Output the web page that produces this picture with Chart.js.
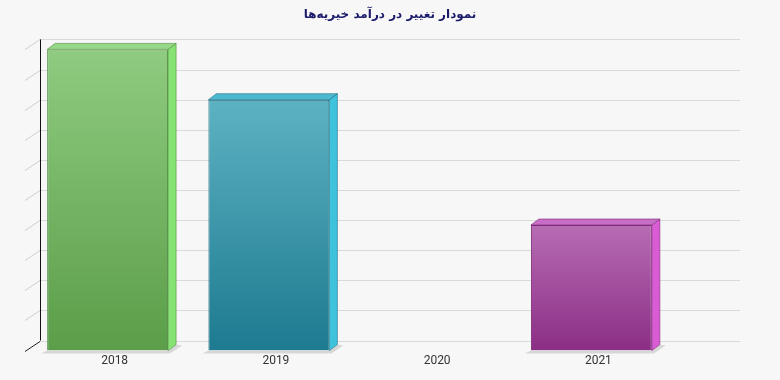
<!DOCTYPE html>
<html>
<head>
<meta charset="utf-8">
<script src="https://cdn.jsdelivr.net/npm/chart.js@4"></script>
<style>
  html, body { margin: 0; padding: 0; background: #f7f7f7; }
  #wrap { width: 780px; height: 380px; }
</style>
</head>
<body>
<div id="wrap"><canvas id="chart" width="780" height="380"></canvas></div>
<script>
// data (no tick labels shown, relative scale 0..100)
const years = ['2018', '2019', '2020', '2021'];
const incomeChange = [100, 83.3, 0, 41.7];
const yMax = 100;
const yStep = 10;

// colours per bar: front top, front bottom, side, top, border
const frontTop = ['#8fcb80', '#5db2c2', '#5db2c2', '#b76cb3'];
const frontBottom = ['#5b9d49', '#1d7a90', '#1d7a90', '#8b2e85'];
const sideColors = ['#86e272', '#3fc3dd', '#3fc3dd', '#d95cd4'];
const topColors = ['#96d887', '#4db9d1', '#4db9d1', '#c86ec6'];
const borderColors = ['#4f8a40', '#1c6b7e', '#1c6b7e', '#7d2a78'];

const DX = 15, DY = 10;   // depth of back wall
const BX = 8, BY = 6;     // depth of bars

const frontGradient = (ctx) => {
  const chart = ctx.chart;
  const i = ctx.dataIndex;
  if (!chart.chartArea || !chart.scales.y) return frontTop[i];
  const top = chart.scales.y.getPixelForValue(ctx.raw);
  const bottom = chart.scales.y.getPixelForValue(0);
  if (bottom - top < 1) return frontTop[i];
  const g = chart.ctx.createLinearGradient(0, top, 0, bottom);
  g.addColorStop(0, frontTop[i]);
  g.addColorStop(1, frontBottom[i]);
  return g;
};

const wall3d = {
  id: 'wall3d',
  beforeDraw(chart) {
    const c = chart.ctx;
    c.save();
    c.fillStyle = '#f7f7f7';
    c.fillRect(0, 0, chart.width, chart.height);
    c.restore();
  },
  beforeDatasetsDraw(chart) {
    const c = chart.ctx;
    const y = chart.scales.y;
    const ax = chart.chartArea.left - 2;
    c.save();
    c.lineWidth = 1;
    for (let v = 0; v <= yMax; v += yStep) {
      const py = Math.round(y.getPixelForValue(v)) + 0.5;
      // back wall line
      c.strokeStyle = '#dadada';
      c.beginPath();
      c.moveTo(ax + DX, py - DY);
      c.lineTo(740, py - DY);
      c.stroke();
      // side diagonal
      c.strokeStyle = v === 0 ? '#222' : '#cfcfcf';
      c.beginPath();
      c.moveTo(ax, py);
      c.lineTo(ax + DX, py - DY);
      c.stroke();
    }
    // vertical axis on back wall
    c.strokeStyle = '#111';
    c.beginPath();
    c.moveTo(ax + DX + 0.5, y.getPixelForValue(yMax) - DY);
    c.lineTo(ax + DX + 0.5, y.getPixelForValue(0) - DY);
    c.stroke();

    // shadows under bars
    const meta = chart.getDatasetMeta(0);
    meta.data.forEach((bar, i) => {
      if (!incomeChange[i]) return;
      const l = bar.x - bar.width / 2, r = bar.x + bar.width / 2, b = bar.base;
      c.fillStyle = 'rgba(0,0,0,0.13)';
      c.beginPath();
      c.moveTo(l - 6, b + 3);
      c.lineTo(r + 2, b + 3);
      c.lineTo(r + BX + 6, b - BY + 1);
      c.lineTo(r + BX, b - BY);
      c.lineTo(r, b);
      c.lineTo(l, b);
      c.closePath();
      c.fill();
    });
    c.restore();
  },
  afterDatasetsDraw(chart) {
    const c = chart.ctx;
    const meta = chart.getDatasetMeta(0);
    c.save();
    meta.data.forEach((bar, i) => {
      if (!incomeChange[i]) return;
      const l = bar.x - bar.width / 2, r = bar.x + bar.width / 2;
      const t = bar.y, b = bar.base;
      // side face
      c.fillStyle = sideColors[i];
      c.strokeStyle = borderColors[i];
      c.lineWidth = 0.6;
      c.beginPath();
      c.moveTo(r, t);
      c.lineTo(r + BX, t - BY);
      c.lineTo(r + BX, b - BY);
      c.lineTo(r, b);
      c.closePath();
      c.fill();
      c.stroke();
      // top face
      c.fillStyle = topColors[i];
      c.beginPath();
      c.moveTo(l, t);
      c.lineTo(l + BX, t - BY);
      c.lineTo(r + BX, t - BY);
      c.lineTo(r, t);
      c.closePath();
      c.fill();
      c.stroke();
    });
    c.restore();
  }
};

new Chart(document.getElementById('chart'), {
  type: 'bar',
  data: {
    labels: years,
    datasets: [{
      label: 'درآمد',
      data: incomeChange,
      backgroundColor: frontGradient,
      borderColor: borderColors,
      borderWidth: 1,
      barPercentage: 0.75,
      categoryPercentage: 1
    }]
  },
  options: {
    responsive: false,
    animation: false,
    layout: { padding: { left: 27, right: 27, top: 0, bottom: 9 } },
    plugins: {
      legend: { display: false },
      tooltip: { enabled: false },
      title: {
        display: true,
        text: 'نمودار تغییر در درآمد خیریه‌ها',
        color: '#1b1b6b',
        font: { family: 'DejaVu Sans', size: 12, weight: 'bold' },
        padding: { top: 8, bottom: 27 }
      }
    },
    scales: {
      x: {
        grid: { display: false, drawTicks: false },
        border: { display: false },
        ticks: { color: '#333', font: { family: 'Roboto', size: 12 }, labelOffset: 7, padding: 3 }
      },
      y: {
        position: 'right',
        min: 0,
        max: yMax,
        grid: { display: false, drawTicks: false },
        border: { display: false },
        ticks: { display: false, stepSize: yStep },
        afterFit(scale) { scale.width = 81; }
      }
    }
  },
  plugins: [wall3d]
});
</script>
</body>
</html>
